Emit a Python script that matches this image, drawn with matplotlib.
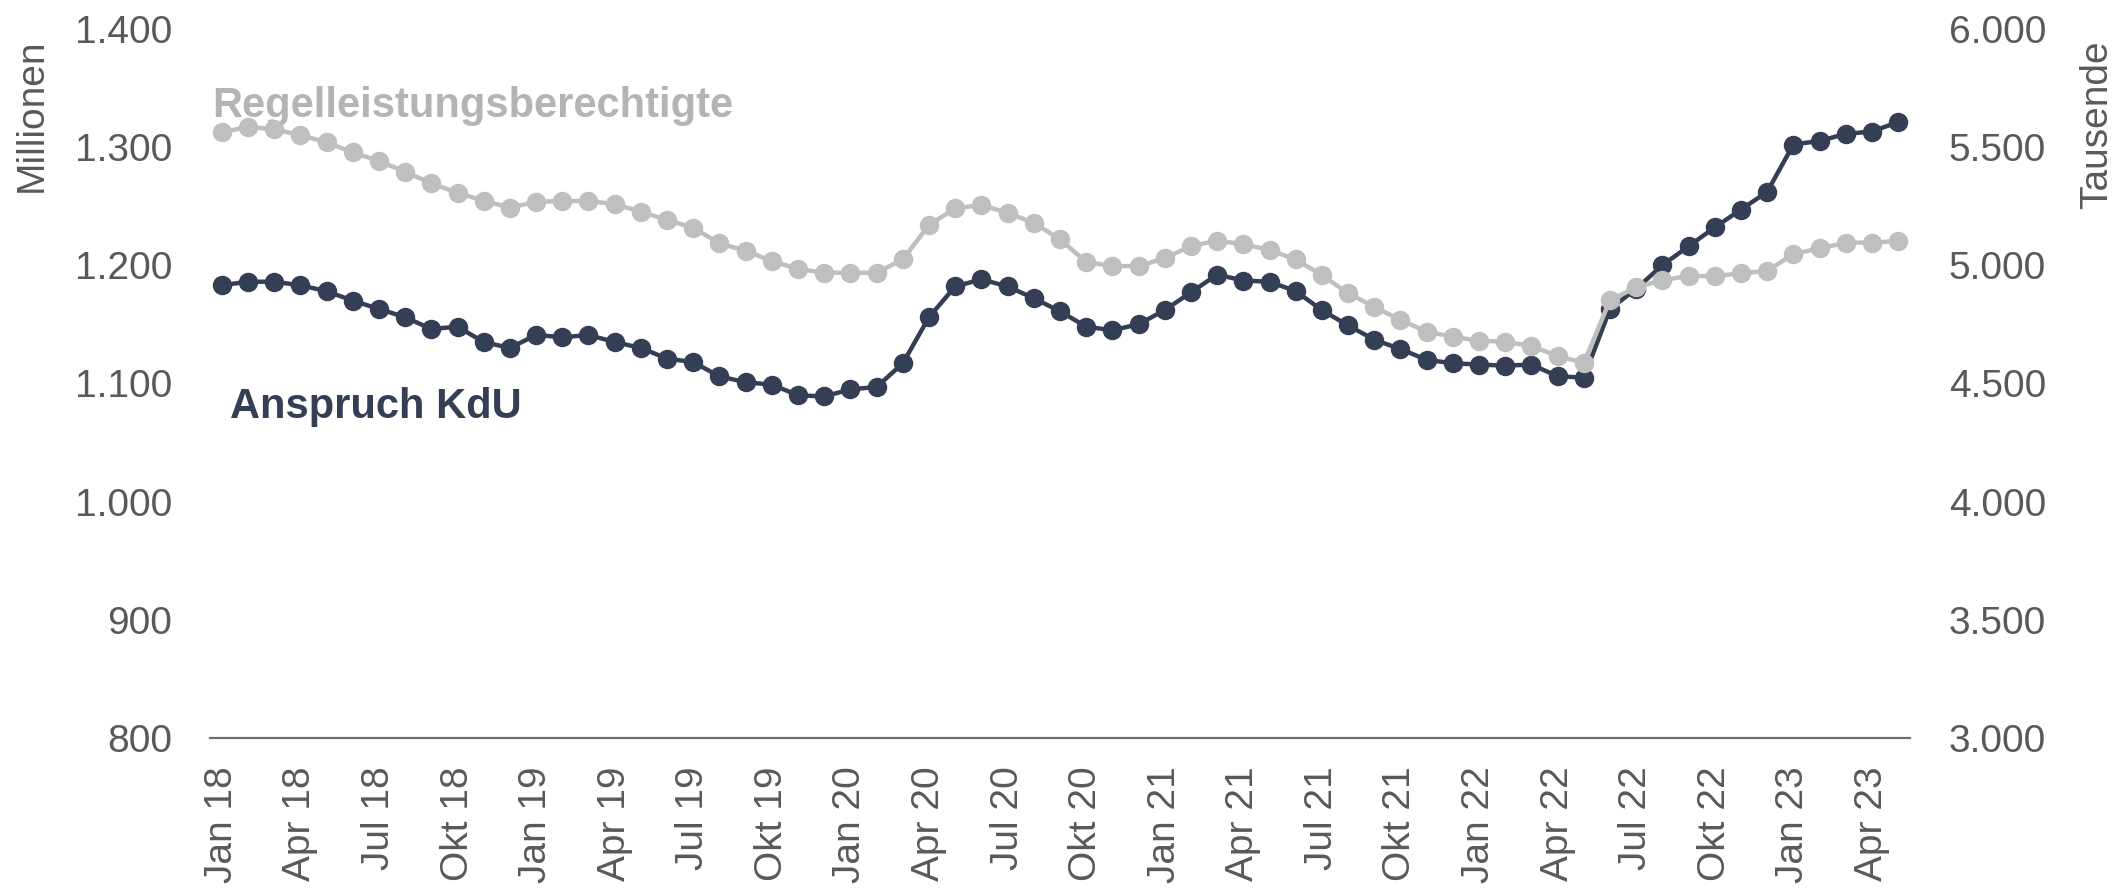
import matplotlib
matplotlib.use("Agg")
import matplotlib.pyplot as plt

# monthly values Jan 2018 - May 2023
kdu = [1183, 1186, 1186, 1183, 1178, 1170, 1163, 1156, 1146, 1148, 1135, 1130,
       1141, 1139, 1141, 1135, 1130, 1121, 1118, 1106, 1101, 1099, 1090, 1089,
       1095, 1097, 1117, 1156, 1182, 1188, 1182, 1172, 1161, 1148, 1145, 1150,
       1162, 1177, 1192, 1187, 1186, 1178, 1162, 1149, 1137, 1129, 1120, 1117,
       1116, 1115, 1116, 1106, 1105, 1163, 1180, 1200, 1216, 1232, 1247, 1262,
       1302, 1305, 1311, 1313, 1321]
regel = [5561, 5585, 5574, 5550, 5519, 5477, 5440, 5395, 5346, 5306, 5272, 5243,
         5268, 5271, 5271, 5258, 5226, 5191, 5158, 5092, 5061, 5017, 4984, 4968,
         4968, 4968, 5024, 5170, 5240, 5254, 5221, 5179, 5109, 5014, 4996, 4996,
         5029, 5081, 5103, 5089, 5064, 5024, 4958, 4881, 4824, 4768, 4719, 4697,
         4681, 4676, 4658, 4616, 4587, 4852, 4906, 4937, 4954, 4954, 4965, 4976,
         5047, 5071, 5095, 5095, 5103]
tick_labels = ["Jan 18", "Apr 18", "Jul 18", "Okt 18", "Jan 19", "Apr 19", "Jul 19",
               "Okt 19", "Jan 20", "Apr 20", "Jul 20", "Okt 20", "Jan 21", "Apr 21",
               "Jul 21", "Okt 21", "Jan 22", "Apr 22", "Jul 22", "Okt 22", "Jan 23",
               "Apr 23"]
left_ticks = [800, 900, 1000, 1100, 1200, 1300, 1400]
right_ticks = [3000, 3500, 4000, 4500, 5000, 5500, 6000]

DARK = "#343E55"
LIGHT = "#BFBFBF"
GREY = "#595959"
FS = 28

plt.rcParams["font.family"] = ["Liberation Sans", "DejaVu Sans"]

fig = plt.figure(figsize=(21.21, 8.94), dpi=100)
ax = fig.add_axes([0.099, 0.1742, 0.8015, 0.7938])
ax2 = ax.twinx()

x = list(range(len(kdu)))
ax.plot(x, kdu, color=DARK, lw=3.2, marker="o", ms=13, zorder=3)
ax2.plot(x, regel, color=LIGHT, lw=3.2, marker="o", ms=13, zorder=3)

ax.set_xlim(-0.45, len(kdu) - 1 + 0.45)
ax.set_ylim(800, 1400)
ax2.set_ylim(3000, 6000)

def fmt(v):
    return f"{v:,.0f}".replace(",", ".")

ax.set_yticks(left_ticks)
ax.set_yticklabels([fmt(v) for v in left_ticks])
ax2.set_yticks(right_ticks)
ax2.set_yticklabels([fmt(v) for v in right_ticks])
ax.set_xticks(list(range(0, len(kdu), 3)))
ax.set_xticklabels(tick_labels, rotation=90)

for a in (ax, ax2):
    for s in a.spines.values():
        s.set_visible(False)
    a.tick_params(length=0, labelsize=FS, colors=GREY)
ax.spines["bottom"].set_visible(True)
ax.spines["bottom"].set_color("#6E6E6E")
ax.spines["bottom"].set_linewidth(1.6)
ax.tick_params(axis="y", pad=27)
ax2.tick_params(axis="y", pad=28)
ax.tick_params(axis="x", pad=20)

fig.text(32 / 2121, 1 - 38 / 894, "Millionen", rotation=90, ha="center", va="top",
         fontsize=FS, color=GREY)
fig.text(2097 / 2121, 1 - 40 / 894, "Tausende", rotation=90, ha="center", va="top",
         fontsize=FS, color=GREY)

ax.text(-0.37, 1325, "Regelleistungsberechtigte", fontsize=30, fontweight="bold",
        color="#B4B4B4", va="baseline", ha="left")
ax.text(0.32, 1071, "Anspruch KdU", fontsize=30, fontweight="bold",
        color=DARK, va="baseline", ha="left")

fig.savefig("out.png", dpi=100, facecolor="white")
